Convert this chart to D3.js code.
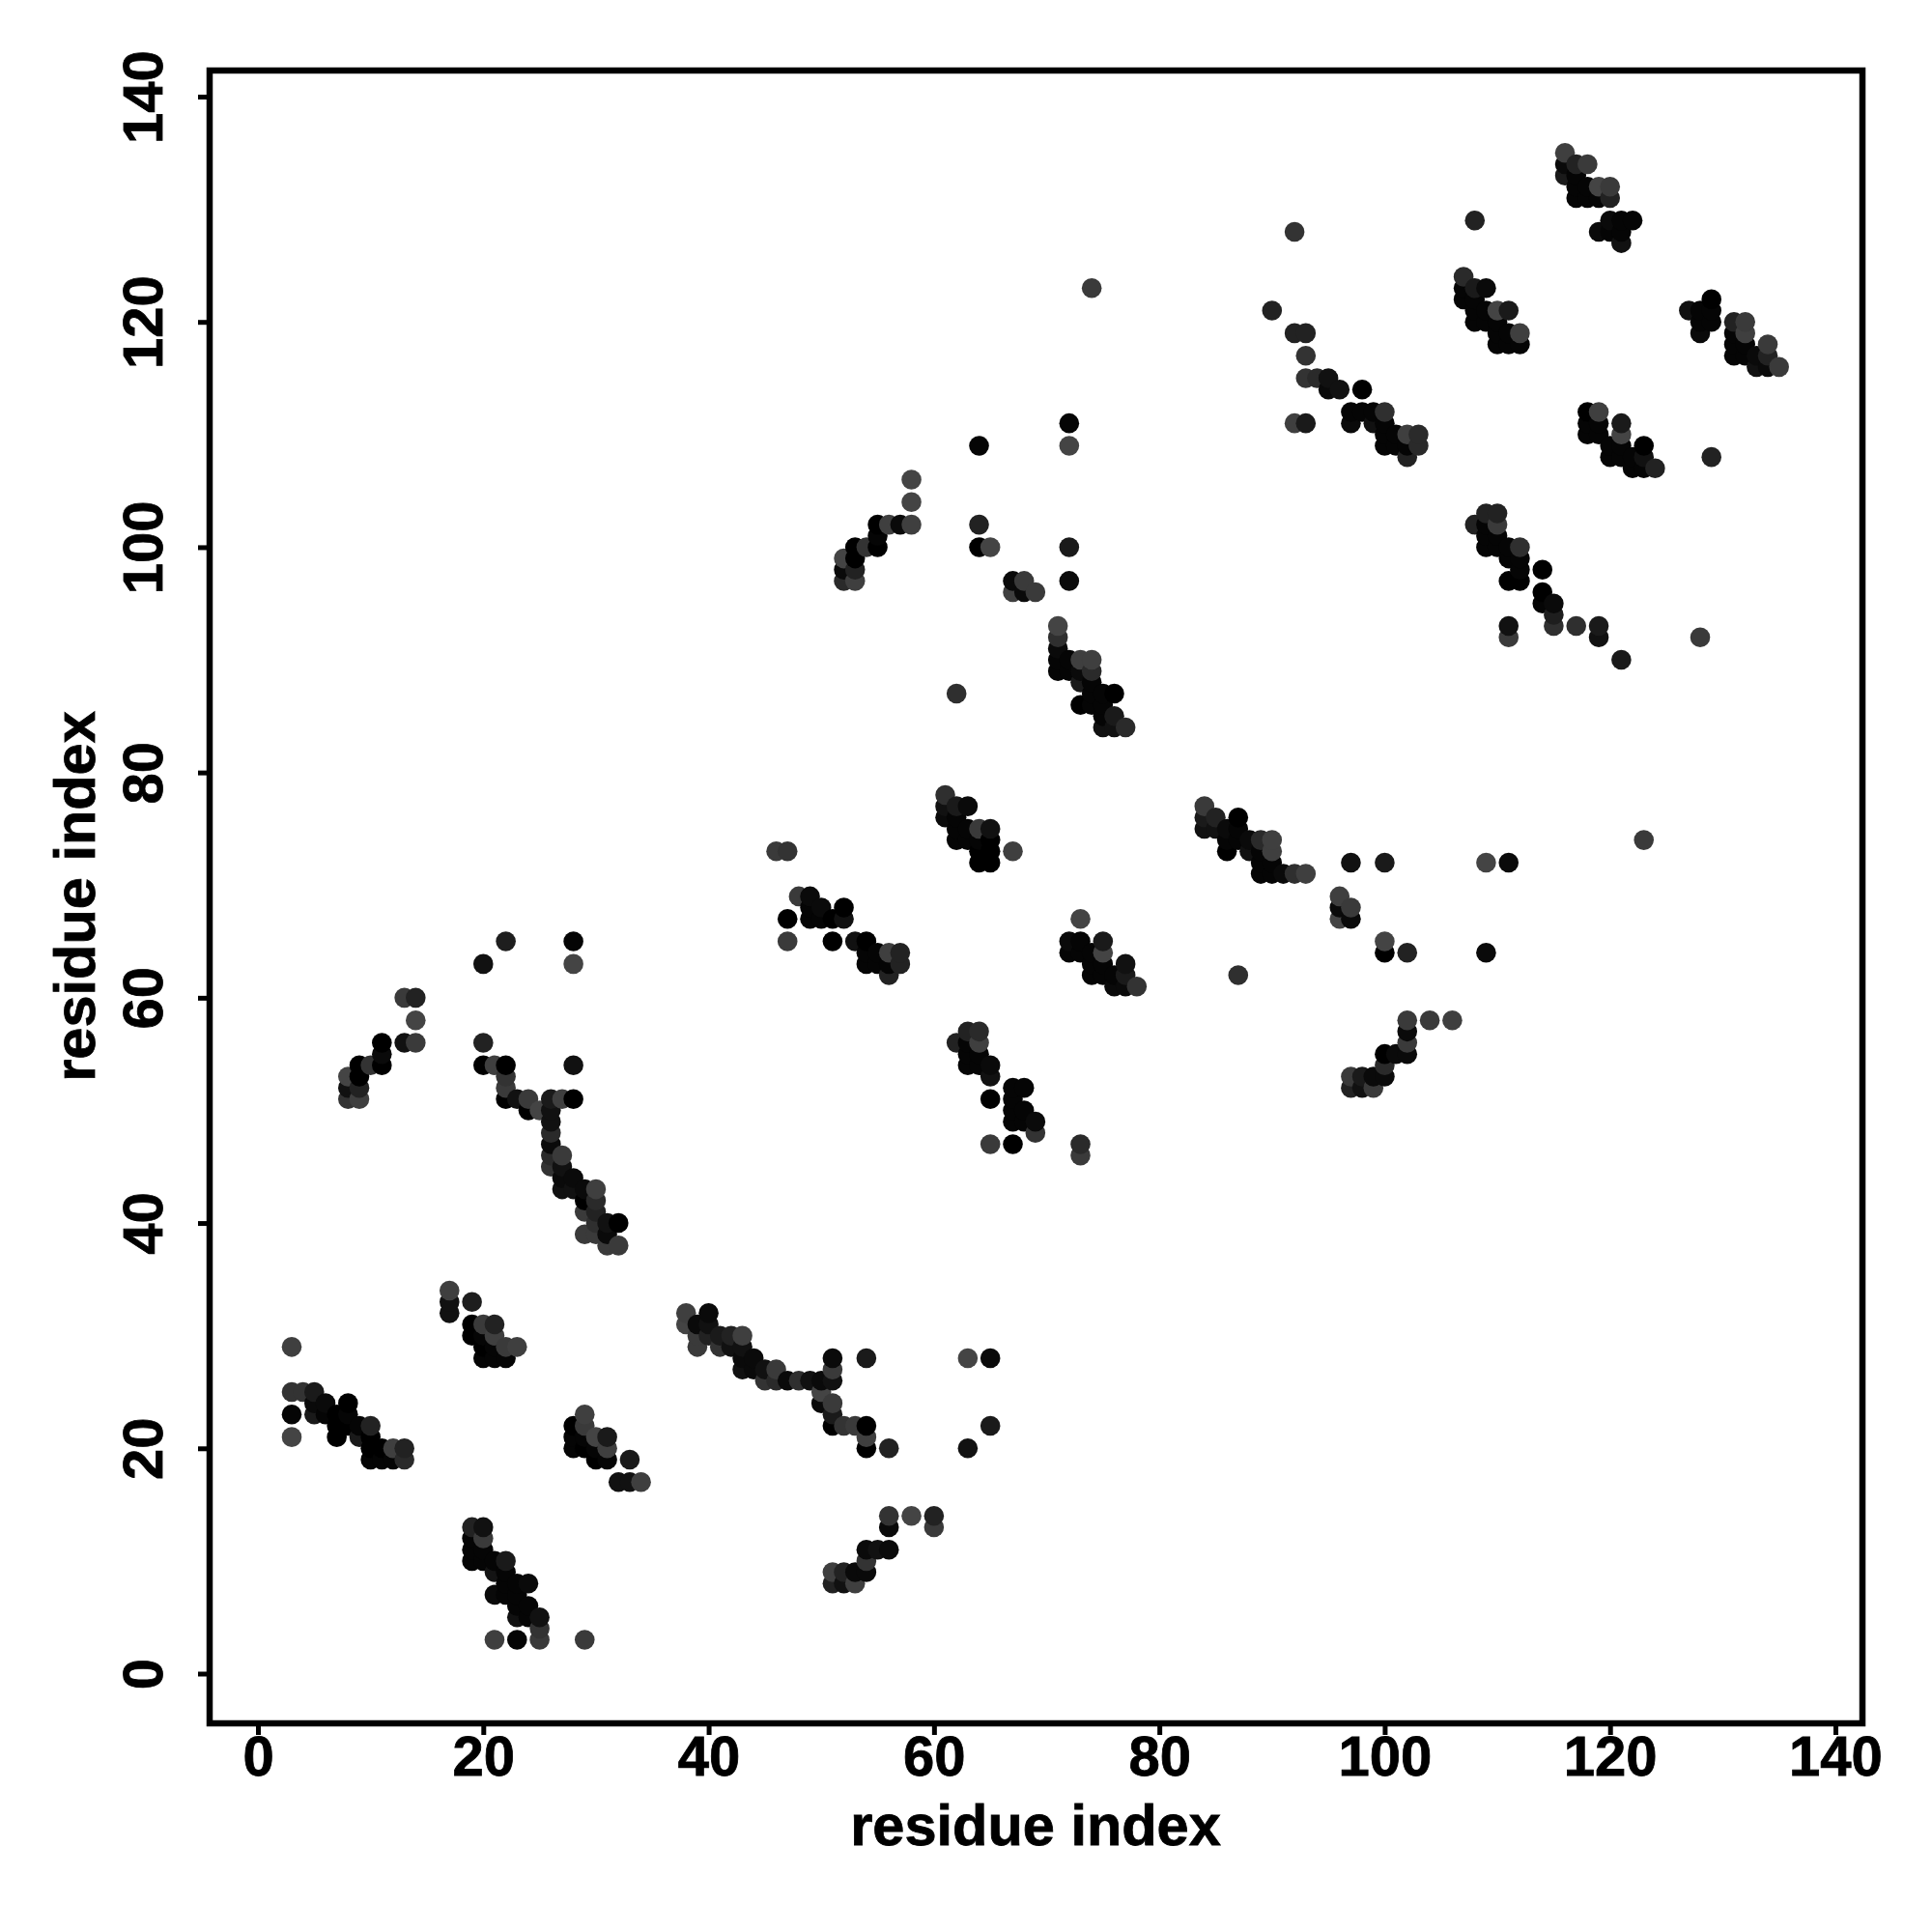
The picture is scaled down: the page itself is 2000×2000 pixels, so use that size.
<!DOCTYPE html>
<html><head><meta charset="utf-8">
<script src="https://cdn.jsdelivr.net/npm/d3@7/dist/d3.min.js"></script>
<style>html,body{margin:0;padding:0;background:#fff}svg{display:block}text{font-family:"Liberation Sans",Arial,sans-serif;font-weight:700;fill:#000;stroke:#000;stroke-width:.8px}</style>
</head><body><div id="chart"></div>
<script>
// each contact: [residue i, residue j, grey level]
const clusterA=[[3,29,63],[3,25,51],[4,25,51],[5,25,26],[3,23,5],[3,21,68],[5,24,10],[6,24,10],[8,24,0],[5,23,26],[6,23,5],[7,23,0],[8,23,5],[7,22,0],[8,22,0],[9,22,5],[10,22,34],[7,21,0],[9,21,26],[10,21,0],[10,20,0],[11,20,0],[12,20,63],[13,20,34],[10,19,5],[11,19,5],[12,19,5],[13,19,42]];
const clusterB=[[17,34,63],[17,33,17],[17,32,17],[19,33,30],[19,31,0],[20,31,58],[21,31,34],[19,30,0],[20,30,5],[21,30,63],[20,29,0],[21,29,5],[22,29,58],[23,29,63],[20,28,5],[21,28,5],[22,28,5]];
const clusterC=[[28,22,0],[29,23,63],[29,22,58],[28,21,5],[28,20,5],[29,21,5],[29,20,0],[30,21,68],[31,21,26],[30,20,5],[31,20,63],[30,19,0],[31,19,5],[33,19,26],[32,17,17],[33,17,17],[34,17,63]];
const clusterD=[[19,13,34],[20,13,17],[20,12,58],[19,12,5],[19,11,5],[19,10,5],[20,11,5],[20,10,5],[21,10,5],[22,10,26],[21,9,20],[22,9,5],[22,8,5],[23,8,5],[24,8,10],[21,7,10],[22,7,5],[23,7,5],[23,6,5],[24,6,5],[25,5,17],[23,5,17],[24,5,5],[25,4,51],[25,3,58],[21,3,63],[23,3,5],[29,3,58]];
const clusterE=[[20,63,17],[22,65,30],[28,65,5],[28,63,68],[13,60,58],[14,60,34],[14,58,68],[13,56,17],[14,56,58],[11,56,0],[11,55,10],[11,54,0],[9,54,0],[10,54,51],[8,53,68],[9,53,0],[8,52,17],[9,52,34],[8,51,51],[9,51,63]];
const clusterF=[[20,56,34],[20,54,0],[21,54,63],[22,54,0],[28,54,17],[22,53,51],[22,52,58],[22,51,0],[23,51,17],[24,51,58],[24,50,0],[25,50,68],[26,51,26],[27,51,63],[28,51,0],[26,50,17],[26,49,17],[26,48,42],[26,47,10],[26,46,42],[26,45,51],[27,46,58],[27,45,17],[27,44,10],[28,44,10],[27,43,17],[28,43,17],[29,43,10],[30,43,63],[29,42,0],[30,42,42],[29,41,58],[30,41,34],[31,40,17],[32,40,0],[30,40,47],[29,39,58],[30,39,58],[31,39,10],[31,38,58],[32,38,58]];
const clusterG=[[38,32,63],[38,31,68],[40,32,10],[39,31,10],[40,31,17],[39,30,58],[40,30,34],[41,30,26],[42,30,34],[43,30,63],[39,29,58],[41,29,51],[42,29,17],[43,29,17],[44,28,10],[43,28,10],[43,27,17],[44,27,10],[45,27,17],[46,27,58],[45,26,51],[46,26,42],[47,26,10],[48,26,47],[49,26,17],[50,26,10],[51,26,17],[51,27,58],[51,28,10],[54,28,26],[50,25,68],[50,24,10],[51,24,58],[51,23,26],[51,22,0],[52,22,51],[53,22,58],[54,22,0],[54,21,63],[54,20,0],[56,20,34],[63,28,68],[65,28,10],[65,22,26],[63,20,17]];
const clusterH=[[56,14,51],[56,13,10],[58,14,68],[60,14,34],[60,13,58],[54,11,10],[55,11,17],[56,11,10],[54,10,51],[51,9,63],[52,9,34],[53,9,10],[54,9,10],[51,8,34],[52,8,17],[53,8,63]];
const clusterI=[[46,73,58],[47,73,51],[48,69,58],[49,69,10],[47,67,0],[47,65,58],[49,68,5],[50,68,10],[52,68,0],[49,67,5],[50,67,5],[51,67,0],[52,67,17],[51,65,0],[53,65,17],[54,65,0],[54,64,5],[55,64,5],[56,64,63],[57,64,34],[54,63,5],[55,63,5],[56,63,5],[57,63,34],[56,62,34]];
const clusterJ=[[61,78,47],[61,77,17],[62,77,26],[63,77,10],[61,76,10],[62,76,5],[62,75,5],[63,75,5],[64,75,58],[65,75,17],[62,74,5],[63,74,5],[64,74,5],[65,74,0],[64,73,0],[65,73,0],[64,72,0],[65,72,0],[67,73,63]];
const clusterK=[[63,57,34],[64,57,42],[62,56,34],[64,56,63],[63,56,5],[63,55,5],[64,55,5],[63,54,5],[64,54,5],[65,54,10],[65,53,17],[65,51,0],[67,52,5],[68,52,5],[67,51,5],[67,50,5],[68,50,5],[67,49,5],[68,49,5],[69,49,10],[69,48,51],[65,47,58],[67,47,0],[73,47,42],[73,46,58]];
const clusterL=[[73,67,68],[72,65,10],[73,65,5],[75,65,26],[72,64,5],[73,64,5],[74,64,5],[75,64,68],[74,63,5],[75,63,5],[77,63,17],[74,62,5],[75,62,5],[76,62,5],[77,62,26],[76,61,10],[77,61,10],[78,61,51]];
const clusterM=[[58,106,68],[58,104,68],[58,102,63],[57,102,10],[56,102,63],[55,102,0],[55,101,5],[55,100,0],[54,100,51],[53,100,0],[53,99,0],[52,99,68],[52,98,10],[53,98,34],[52,97,42],[53,97,63],[64,109,5],[72,111,5],[72,109,68],[74,123,58]];
const clusterN=[[64,102,34],[64,100,0],[65,100,68],[72,100,26],[72,97,10],[67,97,10],[68,97,58],[67,96,63],[68,96,10],[69,96,58],[62,87,47]];
const clusterO=[[71,93,68],[71,92,47],[71,91,10],[71,90,5],[71,89,5],[72,90,5],[72,89,5],[73,90,63],[74,90,63],[73,89,10],[74,89,42],[73,88,26],[74,88,5],[74,87,5],[75,87,5],[76,87,0],[73,86,0],[74,86,5],[75,86,5],[75,85,5],[76,85,26],[75,84,17],[76,84,17],[77,84,42]];
const clusterP=[[84,77,58],[84,76,26],[84,75,17],[85,76,34],[85,75,17],[87,76,0],[86,75,10],[87,75,5],[86,74,5],[87,74,5],[86,73,0],[88,74,10],[89,74,42],[90,74,63],[90,73,63],[88,73,17],[89,73,5],[89,72,5],[90,72,5],[89,71,5],[90,71,5],[91,71,10],[92,71,47],[93,71,63],[87,62,47]];
const clusterQ=[[97,72,17],[100,72,26],[109,72,68],[111,72,10],[96,69,63],[96,68,10],[97,68,58],[96,67,68],[97,67,10],[100,65,68],[100,64,0],[102,64,34],[109,64,10],[123,74,58],[128,92,58],[129,108,34]];
const clusterR=[[102,58,58],[104,58,58],[106,58,63],[102,57,10],[102,56,58],[100,55,0],[101,55,10],[102,55,10],[100,54,42],[97,53,58],[98,53,26],[99,53,10],[100,53,10],[97,52,34],[98,52,17],[99,52,58]];
const clusterS=[[90,121,34],[92,128,51],[92,119,34],[93,119,34],[93,117,51],[93,115,51],[94,115,42],[95,115,17],[95,114,10],[96,114,17],[98,114,0],[97,112,5],[98,112,5],[99,112,5],[100,112,47],[97,111,10],[99,111,17],[100,111,5],[92,111,63],[93,111,26],[100,110,5],[101,110,5],[102,110,63],[103,110,42],[100,109,5],[101,109,5],[102,109,5],[103,109,42],[102,108,34]];
const clusterT=[[118,112,0],[119,112,63],[118,111,5],[119,111,5],[118,110,5],[119,110,5],[121,111,26],[121,110,68],[120,109,5],[121,109,5],[123,109,0],[120,108,5],[121,108,5],[122,108,5],[123,108,17],[122,107,5],[123,107,5],[124,107,34]];
const clusterU=[[109,103,34],[110,103,34],[108,102,34],[109,102,5],[110,102,58],[109,101,5],[110,101,5],[109,100,5],[110,100,5],[111,100,5],[112,100,47],[111,99,5],[112,99,5],[112,98,5],[111,97,0],[112,97,0],[114,98,0],[114,96,0],[114,95,5],[115,95,10],[115,94,30],[115,93,47],[117,93,47],[119,93,26],[119,92,17],[111,93,17],[111,92,58],[121,90,26]];
const clusterV=[[116,135,63],[116,134,10],[116,133,26],[117,134,34],[118,134,58],[117,133,5],[117,132,5],[117,131,5],[118,132,5],[118,131,5],[119,132,68],[120,132,58],[119,131,5],[120,131,34],[120,129,10],[121,129,5],[122,129,5],[119,128,10],[120,128,5],[121,128,5],[121,127,17],[108,129,34]];
const clusterW=[[107,124,42],[107,123,5],[108,123,26],[109,123,10],[107,122,5],[108,122,5],[108,121,5],[109,121,5],[110,121,68],[111,121,26],[108,120,5],[109,120,5],[110,120,5],[110,119,5],[111,119,5],[112,119,63],[110,118,5],[111,118,5],[112,118,5]];
const clusterX=[[127,121,17],[128,121,5],[129,122,0],[129,121,5],[128,120,5],[129,120,5],[128,119,10],[131,120,34],[132,120,58],[131,119,5],[132,119,63],[131,118,5],[132,118,5],[134,118,58],[131,117,5],[132,117,5],[133,117,10],[134,117,34],[133,116,17],[134,116,10],[135,116,58]];
const xTickValues=[0,20,40,60,80,100,120,140];
const yTickValues=[0,20,40,60,80,100,120,140];
const xLabel="residue index", yLabel="residue index";

const contacts=[].concat(clusterA,clusterB,clusterC,clusterD,clusterE,clusterF,clusterG,clusterH,clusterI,clusterJ,clusterK,clusterL,clusterM,clusterN,clusterO,clusterP,clusterQ,clusterR,clusterS,clusterT,clusterU,clusterV,clusterW,clusterX)
  .sort((a,b)=>d3.ascending(a[0],b[0])||d3.ascending(a[1],b[1]));

const svg=d3.select("#chart").append("svg").attr("width",2000).attr("height",2000);
const box={l:217,r:1928,t:73,b:1784};
const x=d3.scaleLinear().domain([0,140]).range([267,1900]);
const y=d3.scaleLinear().domain([0,140]).range([1732.5,100]);

svg.append("g").selectAll("circle").data(contacts).join("circle")
  .attr("cx",d=>x(d[0])).attr("cy",d=>y(d[1])).attr("r",10.3)
  .attr("fill",d=>d3.rgb(d[2],d[2],d[2]));

svg.append("rect").attr("x",box.l).attr("y",box.t).attr("width",box.r-box.l).attr("height",box.b-box.t)
  .attr("fill","none").attr("stroke","#000").attr("stroke-width",6.5);

const ax=svg.append("g").attr("transform",`translate(0,${box.b})`)
  .call(d3.axisBottom(x).tickValues(xTickValues).tickSize(12).tickPadding(1));
ax.select(".domain").remove();
ax.selectAll("line").attr("stroke","#000").attr("stroke-width",5);
ax.selectAll("text").style("font-size","58px").attr("font-family",null);

const ay=svg.append("g").attr("transform",`translate(${box.l},0)`)
  .call(d3.axisLeft(y).tickValues(yTickValues).tickSize(12).tickPadding(0));
ay.select(".domain").remove();
ay.selectAll("line").attr("stroke","#000").attr("stroke-width",5);
ay.selectAll("text").style("font-size","58px").attr("font-family",null)
  .attr("text-anchor","middle").attr("dy",null)
  .attr("transform","translate(-49,0) rotate(-90)").attr("x",0).attr("y",0);

svg.append("text").attr("x",1072).attr("y",1910).attr("text-anchor","middle").style("font-size","59.5px").text(xLabel);
svg.append("text").attr("transform","translate(98,928) rotate(-90)").attr("text-anchor","middle").style("font-size","59.5px").text(yLabel);
</script></body></html>
